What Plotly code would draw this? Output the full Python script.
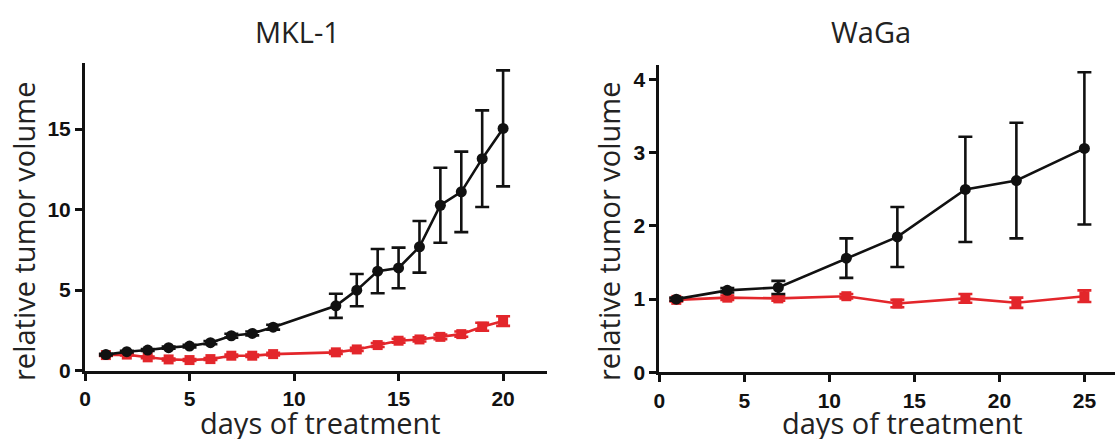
import plotly.graph_objects as go

# ---- data: MKL-1 ----
mkl_days = [1, 2, 3, 4, 5, 6, 7, 8, 9, 12, 13, 14, 15, 16, 17, 18, 19, 20]
mkl_ctrl = [1.0, 1.18, 1.28, 1.43, 1.53, 1.74, 2.17, 2.31, 2.7, 4.03, 5.0, 6.18, 6.38, 7.69, 10.27, 11.1, 13.16, 15.04]
mkl_ctrl_err = [0.05, 0.05, 0.06, 0.07, 0.08, 0.1, 0.12, 0.12, 0.15, 0.75, 1.0, 1.37, 1.26, 1.6, 2.33, 2.5, 3.0, 3.6]
mkl_trt = [0.97, 1.0, 0.83, 0.7, 0.66, 0.72, 0.93, 0.93, 1.03, 1.14, 1.32, 1.59, 1.86, 1.94, 2.1, 2.27, 2.73, 3.08]
mkl_trt_err = [0.05, 0.05, 0.05, 0.06, 0.06, 0.06, 0.07, 0.07, 0.08, 0.1, 0.1, 0.12, 0.12, 0.13, 0.14, 0.16, 0.25, 0.3]

# ---- data: WaGa ----
waga_days = [1, 4, 7, 11, 14, 18, 21, 25]
waga_ctrl = [1.0, 1.12, 1.16, 1.56, 1.85, 2.5, 2.62, 3.06]
waga_ctrl_err = [0.02, 0.03, 0.09, 0.27, 0.41, 0.72, 0.79, 1.04]
waga_trt = [0.99, 1.02, 1.01, 1.04, 0.94, 1.01, 0.95, 1.04]
waga_trt_err = [0.02, 0.03, 0.03, 0.03, 0.05, 0.06, 0.07, 0.08]

titles = ["MKL-1", "WaGa"]
x_title = "days of treatment"
y_title = "relative tumor volume"

BLACK = "#111111"
RED = "#e3262b"

fig = go.Figure()

def add_series(x, y, err, color, symbol, size, xa, ya):
    fig.add_trace(go.Scatter(
        x=x, y=y, mode="lines+markers",
        line=dict(color=color, width=2.6),
        marker=dict(color=color, symbol=symbol, size=size),
        error_y=dict(type="data", array=err, visible=True, color=color,
                     thickness=2.6, width=7),
        xaxis=xa, yaxis=ya, showlegend=False, cliponaxis=False,
    ))

add_series(mkl_days, mkl_trt, mkl_trt_err, RED, "square", 10, "x", "y")
add_series(mkl_days, mkl_ctrl, mkl_ctrl_err, BLACK, "circle", 11, "x", "y")
add_series(waga_days, waga_trt, waga_trt_err, RED, "square", 10, "x2", "y2")
add_series(waga_days, waga_ctrl, waga_ctrl_err, BLACK, "circle", 11, "x2", "y2")

W, H = 1115, 439
tickfont = dict(family="Liberation Sans", size=21, color="#111111", weight="bold")
axis_common = dict(showline=True, linecolor="#111111", linewidth=3,
                   ticks="outside", ticklen=7, tickwidth=2.6, tickcolor="#111111",
                   showgrid=False, zeroline=False, tickfont=tickfont,
                   automargin=False)

fig.update_layout(
    width=W, height=H,
    margin=dict(l=0, r=0, t=0, b=0, pad=0),
    paper_bgcolor="white", plot_bgcolor="white",
    xaxis=dict(domain=[85 / W, 547 / W], range=[0, 22.1],
               tickvals=[0, 5, 10, 15, 20], anchor="y", **axis_common),
    yaxis=dict(domain=[1 - 370.7 / H, 1 - 63.3 / H], range=[0, 19.08],
               tickvals=[0, 5, 10, 15], anchor="x", **axis_common),
    xaxis2=dict(domain=[659.3 / W, 1.0], range=[0, 26.8],
                tickvals=[0, 5, 10, 15, 20, 25], anchor="y2", **axis_common),
    yaxis2=dict(domain=[1 - 372.3 / H, 1 - 65 / H], range=[0, 4.2],
                tickvals=[0, 1, 2, 3, 4], anchor="x2", **axis_common),
)

labfont = dict(family="Open Sans", size=29, color="#222222")
titlefont = dict(family="Open Sans", size=29, color="#222222")

ann = []
for t, cx in zip(titles, [297, 871]):
    ann.append(dict(text=t, x=cx / W, y=1 - 31 / H, xref="paper", yref="paper",
                    showarrow=False, font=titlefont, xanchor="center", yanchor="middle"))
for cx in [320, 902]:
    ann.append(dict(text=x_title, x=cx / W, y=1 - 422 / H, xref="paper", yref="paper",
                    showarrow=False, font=labfont, xanchor="center", yanchor="middle"))
for cx in [23, 608]:
    ann.append(dict(text=y_title, x=cx / W, y=1 - 231 / H, xref="paper", yref="paper",
                    showarrow=False, font=labfont, textangle=-90,
                    xanchor="center", yanchor="middle"))
fig.update_layout(annotations=ann)

fig.write_html(
    "out.html",
    config={"displayModeBar": False},
    post_script="document.body.style.margin='0px';document.body.style.overflow='hidden';",
)
